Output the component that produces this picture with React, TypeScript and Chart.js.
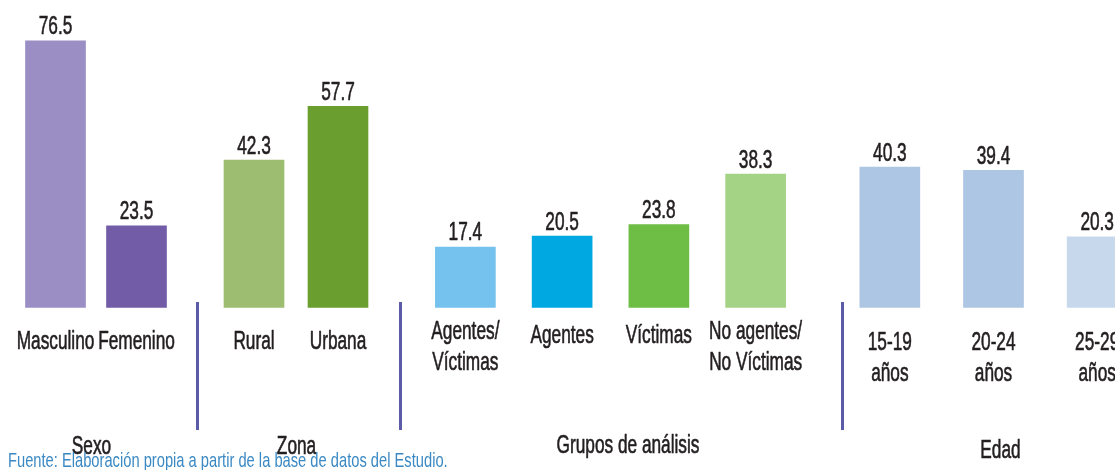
import React, { useEffect, useRef } from "react";
import { Chart, registerables } from "chart.js";

Chart.register(...registerables);

// ---- data ----
const sexoLabels = ["Masculino", "Femenino"];
const sexoValues = [76.5, 23.5];
const zonaLabels = ["Rural", "Urbana"];
const zonaValues = [42.3, 57.7];
const gruposLabels = [["Agentes/", "Víctimas"], "Agentes", "Víctimas", ["No agentes/", "No Víctimas"]];
const gruposValues = [17.4, 20.5, 23.8, 38.3];
const edadLabels = [["15-19", "años"], ["20-24", "años"], ["25-29", "años"]];
const edadValues = [40.3, 39.4, 20.3];
const groupTitles = ["Sexo", "Zona", "Grupos de análisis", "Edad"];
const sourceText = "Fuente: Elaboración propia a partir de la base de datos del Estudio.";

// ---- styles ----
const sexoColors = ["#9B8EC4", "#735CA7"];
const zonaColors = ["#9DBD70", "#6A9E2F"];
const gruposColors = ["#74C2ED", "#00A8E2", "#6EBD45", "#A4D385"];
const edadColors = ["#ADC6E3", "#ADC6E3", "#C7D8ED"];
const FONT = "'Liberation Sans', Arial, Helvetica, sans-serif";
const TEXT = "#231F20";
const SX = 0.69; // horizontal condensing of the text
const Y_MAX = 88.2;
const PAD = 40;

function drawText(ctx: CanvasRenderingContext2D, text: string, x: number, y: number, size: number) {
  ctx.save();
  ctx.translate(x, y);
  ctx.scale(SX, 1);
  ctx.font = `${size}px ${FONT}`;
  ctx.fillStyle = TEXT;
  ctx.strokeStyle = TEXT;
  ctx.lineWidth = 0.6;
  ctx.lineJoin = "round";
  ctx.textAlign = "center";
  ctx.textBaseline = "alphabetic";
  ctx.fillText(text, 0, 0);
  ctx.strokeText(text, 0, 0);
  ctx.restore();
}

const textPlugin = {
  id: "panelText",
  afterDatasetsDraw(chart: any, _args: any, opts: any) {
    const { ctx } = chart;
    const meta = chart.getDatasetMeta(0);
    const data = chart.data.datasets[0].data as number[];
    meta.data.forEach((bar: any, i: number) => {
      drawText(ctx, data[i].toFixed(1), bar.x, bar.y - 6.5, 25);
    });
    const xs = chart.scales.x;
    (chart.data.labels as any[]).forEach((lab: any, i: number) => {
      const x = xs.getPixelForTick(i);
      if (Array.isArray(lab)) {
        lab.forEach((line: string, j: number) => drawText(ctx, line, x, opts.multiY + j * 31, 25));
      } else {
        drawText(ctx, lab, x, opts.singleY, 25);
      }
    });
    drawText(ctx, opts.title, (xs.left + xs.right) / 2 + opts.titleDx, opts.titleY, 25);
  },
};

type PanelProps = {
  labels: any[];
  values: number[];
  colors: string[];
  title: string;
  left: number;
  width: number;
  singleY: number;
  multiY: number;
  titleY: number;
  titleDx: number;
};

function Panel({ labels, values, colors, title, left, width, singleY, multiY, titleY, titleDx }: PanelProps) {
  const ref = useRef<HTMLCanvasElement>(null);
  useEffect(() => {
    if (!ref.current) return;
    const chart = new Chart(ref.current, {
      type: "bar",
      data: {
        labels,
        datasets: [
          {
            data: values,
            backgroundColor: colors,
            borderWidth: 0,
            barThickness: 60,
          },
        ],
      },
      options: {
        animation: false,
        responsive: true,
        maintainAspectRatio: false,
        layout: { padding: { left: PAD, right: PAD, top: 0, bottom: 162.3 } },
        plugins: {
          legend: { display: false },
          tooltip: { enabled: false },
          panelText: { singleY, multiY, titleY, titleDx, title },
        } as any,
        scales: {
          y: { display: false, min: 0, max: Y_MAX },
          x: { display: false },
        },
      },
      plugins: [textPlugin],
    });
    return () => chart.destroy();
  }, []);
  return (
    <div style={{ position: "absolute", left: left - PAD, top: 0, width: width + 2 * PAD, height: 470 }}>
      <canvas ref={ref} />
    </div>
  );
}

const sepStyle = (left: number): React.CSSProperties => ({
  position: "absolute",
  left,
  top: 302,
  width: 3,
  height: 128,
  background: "#5B5BA7",
});

export default function App() {
  return (
    <div
      style={{
        position: "fixed",
        left: 0,
        top: 0,
        width: 1115,
        height: 470,
        overflow: "hidden",
        background: "#ffffff",
      }}
    >
      <Panel labels={sexoLabels} values={sexoValues} colors={sexoColors} title={groupTitles[0]} left={14.5} width={162} singleY={349} multiY={339} titleY={454} titleDx={-4.5} />
      <Panel labels={zonaLabels} values={zonaValues} colors={zonaColors} title={groupTitles[1]} left={212} width={168} singleY={349} multiY={339} titleY={454} titleDx={0.5} />
      <Panel labels={gruposLabels} values={gruposValues} colors={gruposColors} title={groupTitles[2]} left={417} width={387} singleY={343} multiY={339} titleY={453} titleDx={17.5} />
      <Panel labels={edadLabels} values={edadValues} colors={edadColors} title={groupTitles[3]} left={838} width={311} singleY={350} multiY={350} titleY={458} titleDx={7} />
      <div style={sepStyle(195.5)} />
      <div style={sepStyle(398.5)} />
      <div style={sepStyle(841)} />
      <div
        style={{
          position: "absolute",
          left: 8,
          top: 449,
          height: 21,
          color: "#3B89C3",
          fontFamily: FONT,
          fontSize: 21,
          lineHeight: "21px",
          whiteSpace: "nowrap",
          transform: "scaleX(0.7)",
          transformOrigin: "left top",
        }}
      >
        {sourceText}
      </div>
    </div>
  );
}
